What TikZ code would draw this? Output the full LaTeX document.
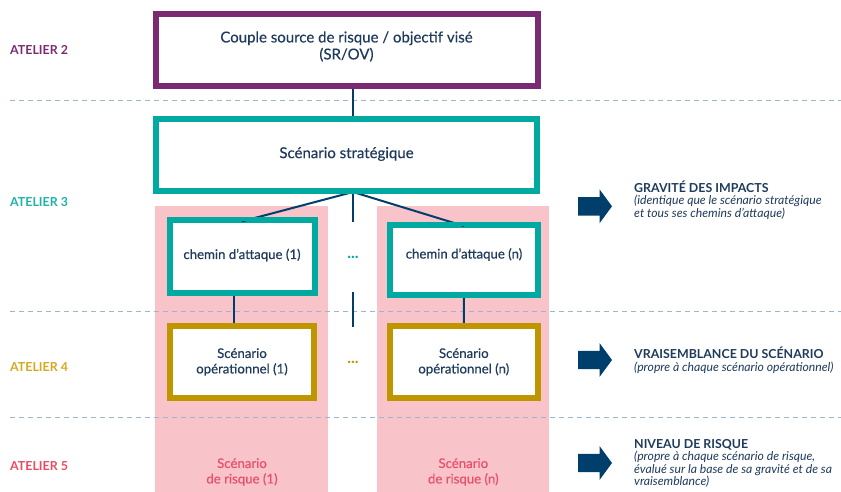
\documentclass[tikz,border=0pt]{standalone}
\usepackage{fontspec}
\setmainfont{Lato}
\newfontfamily\medfont{Lato}[FakeBold=0.35]
\definecolor{navy}{HTML}{1E3A5C}
\definecolor{arrowblue}{HTML}{003F6B}
\definecolor{purp}{HTML}{7A2A72}
\definecolor{tealbox}{HTML}{00AAA0}
\definecolor{goldbox}{HTML}{BF9500}
\definecolor{pinkfill}{HTML}{F8C3C9}
\definecolor{pinktext}{HTML}{E8506A}
\definecolor{dashc}{HTML}{9FB5CA}
\definecolor{atpurp}{HTML}{7A2A72}
\definecolor{atteal}{HTML}{1DB2AA}
\definecolor{atgold}{HTML}{D6A81E}
\definecolor{atred}{HTML}{EB4A62}
\begin{document}
\begin{tikzpicture}[x=1pt,y=-1pt,
  box/.style={draw, fill=white, line width=4pt, inner sep=0pt, text=navy, align=center},
  boxtext/.style={font=\medfont\fontsize{15}{17}\selectfont},
  smalltext/.style={font=\medfont\fontsize{13.2}{15.5}\selectfont},
  link/.style={draw=arrowblue, line width=2pt},
  sep/.style={draw=dashc, line width=0.9pt, dash pattern=on 5pt off 4pt},
  atelier/.style={anchor=base west, inner sep=0pt, font=\fontsize{12.4}{14}\selectfont\bfseries},
  note/.style={anchor=base west, inner sep=0pt, text=navy},
  dots/.style={anchor=base, inner sep=0pt, font=\fontsize{16}{16}\selectfont\bfseries},
  bigarrow/.style={fill=arrowblue}
]
\useasboundingbox (0,0) rectangle (841,492);

% pink columns
\fill[pinkfill] (155,206) rectangle (328,492);
\fill[pinkfill] (377,206) rectangle (549,492);

% dashed separators
\draw[sep] (10,100) -- (841,100);
\draw[sep] (10,311.5) -- (841,311.5);
\draw[sep] (10,417.5) -- (841,417.5);

% key coordinates
\coordinate (mid) at (353,0);
\coordinate (jn) at (353,192);
\coordinate (jd) at (353,222);
\coordinate (t1) at (353,292.3);
\coordinate (t2) at (353,326.7);

% box nodes
\node[box, draw=purp, minimum width=380pt, minimum height=69.5pt] (top) at (346.5,50.25) {};
\node[box, draw=tealbox, minimum width=379pt, minimum height=70pt] (strat) at (346.5,155) {};
\node[box, draw=tealbox, minimum width=143pt, minimum height=70.7pt] (c1) at (242,256.7) {};
\node[box, draw=tealbox, minimum width=146.6pt, minimum height=68pt] (cn) at (464,260) {};
\node[box, draw=goldbox, minimum width=142pt, minimum height=70pt] (o1) at (242,362) {};
\node[box, draw=goldbox, minimum width=145.7pt, minimum height=70pt] (on) at (463.8,362) {};

% connectors
\path[link] (top.south -| mid) -- (strat.north -| mid);
\path[link] (jn) -- ([yshift=-2pt]c1.north);
\path[link] (jn) -- ([yshift=-2pt]cn.north);
\path[link] (jn) -- (jd);
\path[link] (t1) -- (t2);
\path[link] ([xshift=-7.7pt,yshift=2pt]c1.south) -- ([xshift=-7.7pt,yshift=-2pt]o1.north);
\path[link] ([yshift=2pt]cn.south) -- ([yshift=-2pt]on.north);

% redraw box borders over connector ends
\draw[purp, line width=4pt] (top.south west) rectangle (top.north east);
\draw[tealbox, line width=4pt] (strat.south west) rectangle (strat.north east);
\draw[tealbox, line width=4pt] (c1.south west) rectangle (c1.north east);
\draw[tealbox, line width=4pt] (cn.south west) rectangle (cn.north east);
\draw[goldbox, line width=4pt] (o1.south west) rectangle (o1.north east);
\draw[goldbox, line width=4pt] (on.south west) rectangle (on.north east);

% box texts
\node[boxtext, text=navy, align=center, inner sep=0pt] (toptext) at (346.5,46.5) {Couple source de risque / objectif visé\\(SR/OV)};
\node[boxtext, text=navy, inner sep=0pt] (strattext) at (346.5,154) {Scénario stratégique};
\node[smalltext, text=navy, inner sep=0pt] (c1text) at (242,255) {chemin d’attaque (1)};
\node[smalltext, text=navy, inner sep=0pt] (cntext) at (464,254.5) {chemin d’attaque (n)};
\node[smalltext, text=navy, align=center, inner sep=0pt] (o1text) at (242,362) {Scénario\\opérationnel (1)};
\node[smalltext, text=navy, align=center, inner sep=0pt] (ontext) at (463.8,362) {Scénario\\opérationnel (n)};

% dots
\node[dots, text=tealbox] (d1) at (353,258.5) {...};
\node[dots, text=goldbox] (d2) at (353,363.5) {...};

% risk scenario labels
\node[smalltext, text=pinktext, align=center, inner sep=0pt] (r1) at (242,472) {Scénario\\de risque (1)};
\node[smalltext, text=pinktext, align=center, inner sep=0pt] (rn) at (463.3,472) {Scénario\\de risque (n)};

% atelier labels
\node[atelier, text=atpurp] (a2) at (10,55) {ATELIER 2};
\node[atelier, text=atteal] (a3) at (10,207) {ATELIER 3};
\node[atelier, text=atgold] (a4) at (10,371.5) {ATELIER 4};
\node[atelier, text=atred] (a5) at (10,470.7) {ATELIER 5};

% big arrows
\foreach \yc in {206.3,360,463}{
  \fill[bigarrow] (578,\yc-9.2) -- (599.5,\yc-9.2) -- (599.5,\yc-17) -- (612,\yc) -- (599.5,\yc+17) -- (599.5,\yc+9.2) -- (578,\yc+9.2) -- cycle;
}

% notes
\node[note] (n1) at (634,192.3) {\vtop{\baselineskip=12.4pt
  \hbox{\fontsize{12.4}{12}\selectfont\bfseries GRAVITÉ DES IMPACTS}
  \hbox{\fontsize{12.2}{12}\selectfont\itshape (identique que le scénario stratégique}
  \hbox{\fontsize{12.2}{12}\selectfont\itshape et tous ses chemins d’attaque)}}};
\node[note] (n2) at (634,358) {\vtop{\baselineskip=13.5pt
  \hbox{\fontsize{12.4}{12}\selectfont\bfseries VRAISEMBLANCE DU SCÉNARIO}
  \hbox{\fontsize{12.2}{12}\selectfont\itshape (propre à chaque scénario opérationnel)}}};
\node[note] (n3) at (634,448) {\vtop{\baselineskip=12.6pt
  \hbox{\fontsize{12.4}{12}\selectfont\bfseries NIVEAU DE RISQUE}
  \hbox{\fontsize{12.2}{12}\selectfont\itshape (propre à chaque scénario de risque,}
  \hbox{\fontsize{12.2}{12}\selectfont\itshape évalué sur la base de sa gravité et de sa}
  \hbox{\fontsize{12.2}{12}\selectfont\itshape vraisemblance)}}};
\end{tikzpicture}
\end{document}
